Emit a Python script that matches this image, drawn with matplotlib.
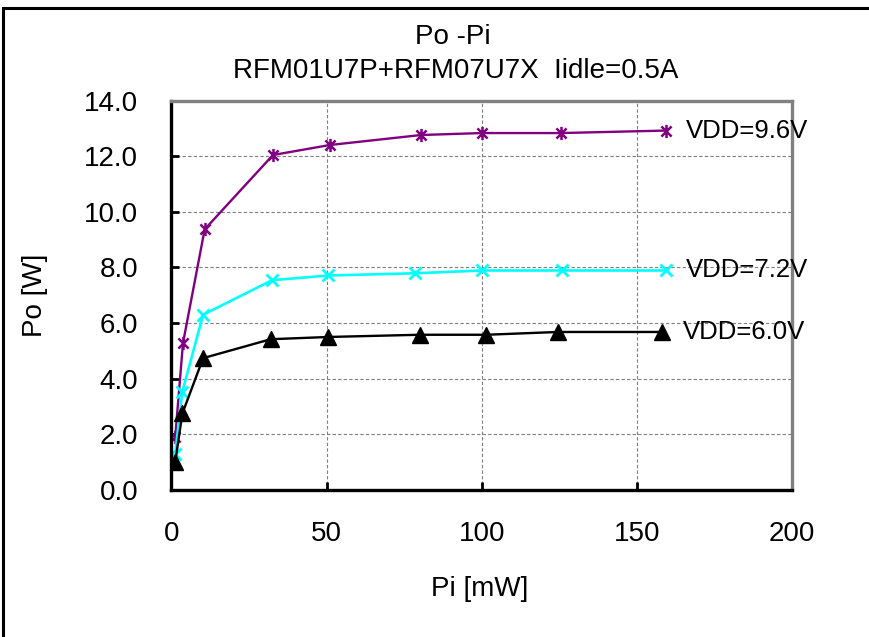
import numpy as np
import matplotlib
matplotlib.use('Agg')
import matplotlib.pyplot as plt
from matplotlib.path import Path
from matplotlib.patches import Rectangle

plt.rcParams['font.family'] = ['Liberation Sans', 'DejaVu Sans']

# Pi [mW] -> Po [W] for each drain voltage
pi_96 = [1.2, 3.7, 10.7, 32.7, 51, 80.5, 100, 125.5, 159.5]
po_96 = [1.9, 5.28, 9.37, 12.04, 12.40, 12.76, 12.83, 12.83, 12.92]

pi_72 = [1.2, 3.5, 10.2, 32.4, 50.5, 78.5, 100, 126, 159.5]
po_72 = [1.31, 3.54, 6.30, 7.54, 7.71, 7.79, 7.89, 7.89, 7.89]

pi_60 = [1.2, 3.5, 10.2, 32.0, 50.5, 80, 101.5, 124.5, 158]
po_60 = [1.01, 2.75, 4.74, 5.42, 5.50, 5.58, 5.58, 5.68, 5.68]

labels = ['VDD=9.6V', 'VDD=7.2V', 'VDD=6.0V']

# excel style star: an x with a vertical bar through it
star = Path([(-1, -1), (1, 1), (-1, 1), (1, -1), (0, -1.3), (0, 1.3)],
            [Path.MOVETO, Path.LINETO, Path.MOVETO, Path.LINETO, Path.MOVETO, Path.LINETO])

fig = plt.figure(figsize=(8.7, 6.37), dpi=100)
ax = fig.add_axes([171.5/870, 1-490/637, (792-171.5)/870, (490-100.5)/637])

ax.plot(pi_96, po_96, color='#800080', lw=1.7, marker=star, ms=9.5, mew=1.8)
ax.plot(pi_72, po_72, color='#00FFFF', lw=1.9, marker='x', ms=9, mew=2)
ax.plot(pi_60, po_60, color='black', lw=1.7, marker='^', ms=11.5)

ax.annotate(labels[0], (pi_96[-1], po_96[-1]), xytext=(14, 0), textcoords='offset points',
            va='center', ha='left', fontsize=18.5)
ax.annotate(labels[1], (pi_72[-1], po_72[-1]), xytext=(14, 0), textcoords='offset points',
            va='center', ha='left', fontsize=18.5)
ax.annotate(labels[2], (pi_60[-1], po_60[-1]), xytext=(15, 0), textcoords='offset points',
            va='center', ha='left', fontsize=18.5)

ax.set_xlim(0, 200)
ax.set_ylim(0, 14)
ax.set_xticks(np.arange(0, 201, 50))
ax.set_yticks(np.arange(0, 14.1, 2))
ax.set_yticklabels(['%.1f' % v for v in np.arange(0, 14.1, 2)])
ax.grid(True, color='#7f7f7f', linestyle=(0, (3, 2)), lw=0.8)
ax.set_axisbelow(True)

ax.tick_params(direction='in', length=6, width=2, labelsize=20)
ax.tick_params(axis='y', pad=24)
ax.tick_params(axis='x', pad=22)
for s in ['left', 'bottom']:
    ax.spines[s].set_linewidth(2.4)
    ax.spines[s].set_color('black')
for s in ['top', 'right']:
    ax.spines[s].set_linewidth(2.4)
    ax.spines[s].set_color('#808080')

fig.text(453/870, 1-37/637, 'Po -Pi', ha='center', va='center', fontsize=20)
fig.text(456/870, 1-71.5/637, 'RFM01U7P+RFM07U7X  Iidle=0.5A', ha='center', va='center', fontsize=20)
fig.text(480/870, 1-589/637, 'Pi [mW]', ha='center', va='center', fontsize=20)
fig.text(35/870, 1-295/637, 'Po [W]', ha='center', va='center', fontsize=20, rotation=90)

# outer chart border
fig.patches.append(Rectangle((3/870, -0.05), 1.2, 1.05-8/637, transform=fig.transFigure,
                             fill=False, ec='black', lw=2.2))

fig.savefig('out.png', dpi=100)
